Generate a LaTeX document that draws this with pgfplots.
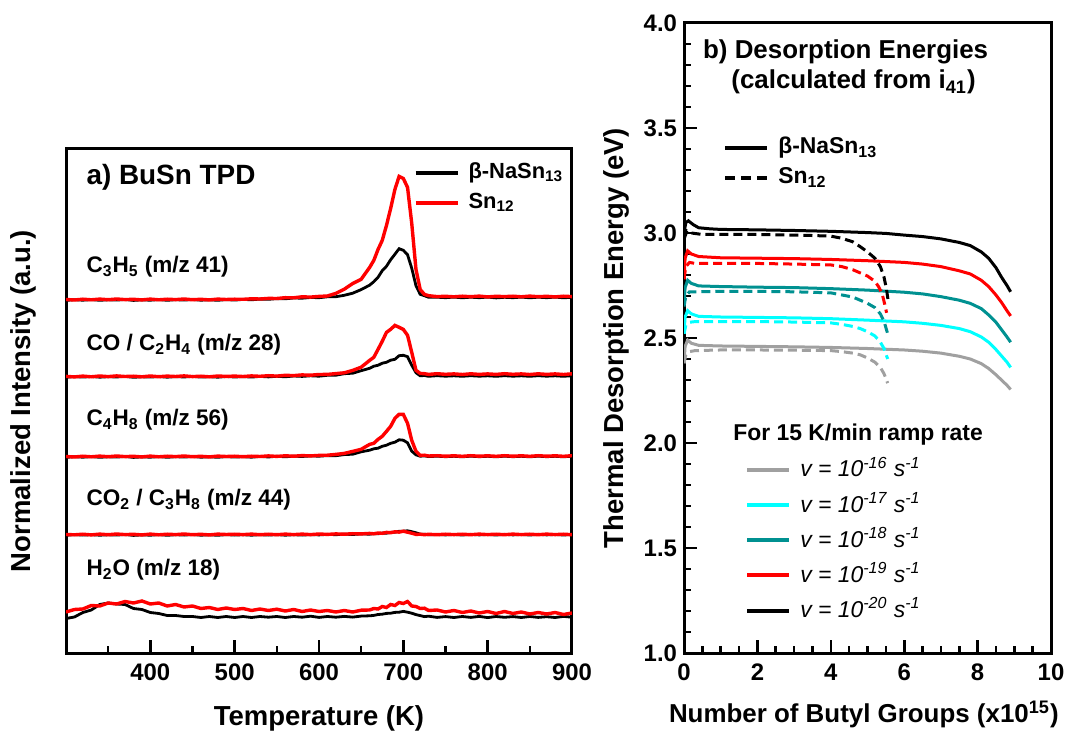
\documentclass[border=0pt]{standalone}
\usepackage{fontspec}
\setmainfont{Liberation Sans}
\usepackage{pgfplots}
\usepackage{pgfplotstable}
\pgfplotsset{compat=1.18}

\definecolor{cgray}{RGB}{160,160,160}
\definecolor{ccyan}{RGB}{0,255,255}
\definecolor{cteal}{RGB}{0,145,145}
\definecolor{cred}{RGB}{255,0,0}

\pgfplotstableread{
T b41 r41 b28 r28 b56 r56 b44 r44 b18 r18
300 352.6 353.5 275.7 276.6 195.6 196.5 117.7 118.5 34.5 41.0
310 353.3 353.0 276.4 276.1 196.3 196.0 118.4 118.2 36.0 43.5
320 352.8 353.8 275.9 276.9 195.8 196.8 117.9 118.8 40.5 44.0
330 353.4 353.2 276.5 276.2 196.4 196.2 118.3 118.1 43.0 47.5
340 352.7 353.9 275.8 277.0 195.7 196.9 117.8 118.9 48.5 47.0
350 353.2 353.3 276.3 276.4 196.2 196.3 118.2 118.3 50.0 50.0
360 352.9 354.0 276.0 277.1 195.9 197.0 117.9 119.0 49.0 49.0
370 353.5 353.4 276.6 276.5 196.5 196.4 118.5 118.4 48.5 51.5
380 352.6 353.7 275.7 276.8 195.6 196.7 117.6 118.7 44.5 50.0
390 353.1 353.1 276.2 276.2 196.1 196.1 118.1 118.1 43.5 52.0
400 352.8 353.9 275.9 277.0 195.8 196.9 117.8 118.9 40.5 49.0
410 353.4 353.2 276.5 276.3 196.4 196.2 118.4 118.2 39.5 50.0
420 352.7 353.8 275.8 276.9 195.7 196.8 117.7 118.8 37.5 47.0
430 353.3 353.4 276.4 276.5 196.3 196.4 118.3 118.4 37.5 48.5
440 352.9 354.0 276.0 277.1 195.9 197.0 117.9 119.0 36.5 46.0
450 353.5 353.3 276.6 276.4 196.5 196.3 118.5 118.3 36.5 47.0
460 352.8 353.7 275.9 276.8 195.8 196.7 117.8 118.7 35.5 44.5
470 353.2 353.1 276.3 276.2 196.2 196.1 118.2 118.1 36.5 45.5
480 352.7 353.9 275.8 277.0 195.7 196.9 117.7 118.9 35.5 43.5
490 353.4 353.5 276.5 276.6 196.4 196.5 118.4 118.5 36.5 45.0
500 352.9 353.8 276.0 276.9 195.9 196.8 117.9 118.8 35.5 43.5
510 353.6 353.7 276.4 276.5 196.3 196.3 118.3 118.4 36.5 44.5
520 353.2 354.2 275.9 277.1 195.8 196.8 117.8 118.9 35.5 42.5
530 353.9 354.0 276.6 276.7 196.6 196.5 118.3 118.3 36.5 44.0
540 353.7 354.6 276.1 277.3 196.0 197.1 117.9 118.8 35.8 42.5
550 354.4 354.5 276.7 276.9 196.7 196.6 118.4 118.3 36.5 43.8
560 354.2 355.3 276.2 277.7 196.2 197.2 117.8 118.9 35.5 42.0
570 355.0 355.2 277.0 277.4 196.8 196.8 118.3 118.4 36.5 43.5
580 354.8 356.2 276.6 278.1 196.5 197.4 117.9 118.9 35.8 41.5
590 355.5 355.9 277.2 277.8 197.1 197.1 118.4 118.4 36.8 43.0
600 355.3 356.6 276.8 278.5 196.8 197.6 118.1 119.0 35.6 41.5
610 356.2 357.0 277.7 278.6 197.4 197.8 118.6 118.6 36.5 42.5
620 356.3 359.6 277.8 279.4 197.3 198.6 118.3 119.1 35.8 41.0
630 357.7 363.8 279.3 280.2 198.4 199.6 118.8 118.8 36.6 42.5
640 359.8 369.5 279.8 282.6 198.8 201.6 118.5 119.3 35.9 41.0
650 363.4 373.7 282.3 285.8 201.2 203.7 119.1 119.1 36.9 42.8
660 367.8 385.5 284.7 292.6 202.8 208.6 118.8 119.6 37.2 43.0
665 371.3 392.6 286.8 295.7 204.2 209.7 119.4 119.2 37.6 44.5
670 375.7 403.5 287.7 303.6 204.8 213.6 119.2 120.0 38.5 44.0
675 382.3 412.6 289.8 311.7 206.7 216.7 119.9 119.7 38.8 46.5
680 386.7 427.5 290.7 320.6 207.8 221.6 119.8 120.6 39.6 45.5
685 393.3 444.6 292.8 323.7 209.7 226.7 120.6 120.3 39.8 48.5
690 398.7 463.5 293.7 327.6 210.8 234.6 120.8 121.2 40.6 47.5
695 404.3 476.6 297.3 325.7 213.2 238.7 121.7 120.9 40.8 50.5
700 402.7 474.5 297.7 323.6 212.8 238.6 121.8 121.8 41.6 49.5
705 398.3 465.6 296.3 317.7 210.2 229.7 122.2 120.8 40.8 51.5
710 384.7 429.5 287.7 300.6 201.8 212.6 121.3 119.8 39.8 47.0
715 367.3 383.6 280.3 282.7 198.2 201.7 120.2 118.6 38.4 46.5
720 358.7 363.5 277.2 279.6 196.8 197.6 118.8 118.8 37.4 44.5
725 357.3 358.6 277.5 279.3 197.1 197.8 118.8 118.3 36.4 44.8
730 355.7 357.3 276.7 278.6 196.4 197.0 118.2 118.7 36.8 42.5
740 355.8 356.4 277.3 279.3 196.8 197.3 118.5 118.3 35.6 43.0
750 355.3 356.7 276.8 278.7 196.3 196.8 118.1 118.8 36.4 41.0
760 355.9 356.2 277.2 279.1 196.7 197.2 118.5 118.4 35.5 42.5
770 355.2 356.8 276.7 278.5 196.2 196.7 118.0 118.8 36.5 40.5
780 355.8 356.3 277.3 279.2 196.8 197.3 118.6 118.3 35.6 42.0
790 355.3 356.9 276.8 278.6 196.3 196.8 118.1 118.9 36.6 40.0
800 355.9 356.1 277.2 279.1 196.7 197.2 118.5 118.4 35.4 41.5
810 355.1 356.7 276.7 278.6 196.2 196.7 118.0 118.8 36.5 39.5
820 355.7 356.4 277.3 279.3 196.8 197.3 118.6 118.3 35.7 41.5
830 355.3 356.8 276.8 278.7 196.3 196.8 118.1 118.9 36.4 39.5
840 355.9 356.2 277.2 279.1 196.7 197.2 118.5 118.4 35.5 41.0
850 355.2 356.9 276.7 278.5 196.2 196.7 118.0 118.8 36.5 39.0
860 355.8 356.3 277.3 279.2 196.8 197.3 118.6 118.3 35.6 40.5
870 355.3 356.7 276.8 278.6 196.3 196.8 118.1 118.9 36.3 39.0
880 355.9 356.1 277.2 279.1 196.7 197.2 118.5 118.4 35.5 40.5
890 355.2 356.8 276.7 278.5 196.2 196.7 118.0 118.8 36.6 38.5
900 355.7 356.4 277.3 279.2 196.8 197.3 118.5 118.3 35.8 40.0
}\tpd

\pgfplotsset{
  myaxis/.style={
    scale only axis,
    axis line style={line width=1.5bp},
    tick align=inside,
    xtick pos=bottom, ytick pos=left,
    major tick length=6.5bp, minor tick length=3.5bp,
    every tick/.style={black, line width=1.3bp},
    ticklabel style={font=\fontsize{12}{14}\selectfont\bfseries},
    /pgf/number format/assume math mode=true,
    label style={font=\fontsize{13.8}{16}\selectfont\bfseries},
    xticklabel style={yshift=-2bp},
  },
  thicklegend/.style={
    legend image code/.code={\draw[##1, line width=2bp] (0bp,0bp) -- (21bp,0bp);},
  },
}

\begin{document}
\begin{tikzpicture}
\path[use as bounding box] (0,0) rectangle (533.5bp,367bp);

% ---------------- left panel ----------------
\begin{axis}[myaxis,
  at={(33bp,40.5bp)}, anchor=south west,
  width=253bp, height=252bp,
  xmin=300, xmax=900, ymin=0, ymax=504,
  xtick={400,500,...,900}, minor xtick={350,450,...,850},
  ytick=\empty,
  xlabel={Temperature (K)},
  ylabel={Normalized Intensity (a.u.)},
  xlabel style={at={(axis description cs:0.5,-0.129)}, anchor=center},
  ylabel style={at={(axis description cs:-0.085,0.5)}, anchor=center},
  thicklegend,
  legend style={at={(axis description cs:0.686,0.9235)}, anchor=west,
    draw=none, fill=none, inner sep=0pt, row sep=3bp, column sep=4bp,
    font=\fontsize{11}{13}\selectfont\bfseries,
    nodes={inner sep=0.5bp, text height=8.5bp, text depth=2.5bp}},
  legend cell align=left,
]
\addplot[black, line width=1.4bp] table[x=T,y=b41]{\tpd};
\addlegendentry{β-NaSn\textsubscript{13}}
\addplot[black, line width=1.4bp, forget plot] table[x=T,y=b28]{\tpd};
\addplot[black, line width=1.4bp, forget plot] table[x=T,y=b56]{\tpd};
\addplot[black, line width=1.4bp, forget plot] table[x=T,y=b44]{\tpd};
\addplot[black, line width=1.4bp, forget plot] table[x=T,y=b18]{\tpd};
\addplot[cred, line width=1.7bp] table[x=T,y=r41]{\tpd};
\addlegendentry{Sn\textsubscript{12}}
\addplot[cred, line width=1.7bp, forget plot] table[x=T,y=r28]{\tpd};
\addplot[cred, line width=1.7bp, forget plot] table[x=T,y=r56]{\tpd};
\addplot[cred, line width=1.7bp, forget plot] table[x=T,y=r44]{\tpd};
\addplot[cred, line width=1.7bp, forget plot] table[x=T,y=r18]{\tpd};

\node[anchor=west, font=\fontsize{14}{16}\selectfont\bfseries] at (axis cs:316,476) {a) BuSn TPD};
\begin{scope}[every node/.style={anchor=west, font=\fontsize{11.3}{13}\selectfont\bfseries}]
\node at (axis cs:316,386) {C\textsubscript{3}H\textsubscript{5} (m/z 41)};
\node at (axis cs:316,308) {CO / C\textsubscript{2}H\textsubscript{4} (m/z 28)};
\node at (axis cs:316,233) {C\textsubscript{4}H\textsubscript{8} (m/z 56)};
\node at (axis cs:316,153) {CO\textsubscript{2} / C\textsubscript{3}H\textsubscript{8} (m/z 44)};
\node at (axis cs:316,83) {H\textsubscript{2}O (m/z 18)};
\end{scope}
\end{axis}

% ---------------- right panel ----------------
\begin{axis}[myaxis,
  at={(342bp,40.5bp)}, anchor=south west,
  width=183.5bp, height=315bp,
  xmin=0, xmax=10, ymin=1, ymax=4,
  xtick={0,2,...,10}, minor x tick num=3,
  ytick={1,1.5,...,4}, minor y tick num=4,
  yticklabel style={/pgf/number format/.cd, fixed, fixed zerofill, precision=1},
  xlabel={Number of Butyl Groups (x10\textsuperscript{15})},
  ylabel={Thermal Desorption Energy (eV)},
  xlabel style={at={(axis description cs:0.49,-0.098)}, anchor=center, font=\fontsize{13}{15}\selectfont\bfseries},
  ylabel style={at={(axis description cs:-0.183,0.5)}, anchor=center},
  thicklegend,
  legend style={at={(axis description cs:0.106,0.7785)}, anchor=west,
    draw=none, fill=none, inner sep=0pt, row sep=3bp, column sep=4bp,
    font=\fontsize{11.5}{13}\selectfont\bfseries,
    nodes={inner sep=0.5bp, text height=8.5bp, text depth=2.5bp}},
  legend cell align=left,
]
\addlegendimage{black, line width=2bp}
\addlegendentry{β-NaSn\textsubscript{13}}
\addlegendimage{black, line width=2bp, dash pattern=on 5bp off 3bp}
\addlegendentry{Sn\textsubscript{12}}

% gray
\addplot[cgray, line width=1.5bp, forget plot] coordinates {(0,2.38) (0.03,2.46) (0.1,2.49) (0.2,2.475) (0.4,2.465) (1,2.462) (2,2.46) (3,2.458) (4,2.455) (5,2.45) (6,2.443) (6.5,2.437) (7,2.428) (7.5,2.413) (7.8,2.4) (8.1,2.378) (8.3,2.355) (8.5,2.325) (8.65,2.3) (8.8,2.275) (8.9,2.255)};
\addplot[cgray, line width=1.5bp, dash pattern=on 4.5bp off 2.5bp, forget plot] coordinates {(0,2.38) (0.05,2.42) (0.15,2.435) (0.3,2.44) (1,2.443) (2,2.443) (3,2.442) (4,2.44) (4.3,2.435) (4.6,2.428) (4.8,2.42) (5.0,2.405) (5.2,2.385) (5.35,2.36) (5.45,2.33) (5.55,2.285)};
% cyan
\addplot[ccyan, line width=1.5bp, forget plot] coordinates {(0,2.52) (0.03,2.6) (0.1,2.63) (0.2,2.615) (0.4,2.603) (1,2.6) (2,2.598) (3,2.596) (4,2.592) (5,2.585) (6,2.577) (6.5,2.57) (7,2.56) (7.5,2.545) (7.8,2.53) (8.1,2.505) (8.3,2.48) (8.5,2.445) (8.65,2.415) (8.8,2.385) (8.9,2.36)};
\addplot[ccyan, line width=1.5bp, dash pattern=on 4.5bp off 2.5bp, forget plot] coordinates {(0,2.52) (0.05,2.56) (0.15,2.575) (0.3,2.578) (1,2.578) (2,2.578) (3,2.576) (4,2.572) (4.3,2.565) (4.6,2.555) (4.8,2.545) (5.0,2.53) (5.2,2.51) (5.35,2.48) (5.45,2.45) (5.55,2.40)};
% teal
\addplot[cteal, line width=1.5bp, forget plot] coordinates {(0,2.66) (0.03,2.74) (0.1,2.775) (0.2,2.76) (0.4,2.748) (1,2.745) (2,2.742) (3,2.74) (4,2.735) (5,2.728) (6,2.718) (6.5,2.71) (7,2.697) (7.5,2.68) (7.8,2.665) (8.1,2.64) (8.3,2.61) (8.5,2.575) (8.65,2.54) (8.8,2.505) (8.9,2.48)};
\addplot[cteal, line width=1.5bp, dash pattern=on 4.5bp off 2.5bp, forget plot] coordinates {(0,2.65) (0.05,2.70) (0.15,2.72) (0.3,2.72) (1,2.722) (2,2.722) (3,2.72) (4,2.715) (4.3,2.705) (4.6,2.695) (4.8,2.68) (5.0,2.665) (5.2,2.645) (5.35,2.615) (5.45,2.58) (5.55,2.52)};
% red
\addplot[cred, line width=1.5bp, forget plot] coordinates {(0,2.78) (0.03,2.88) (0.1,2.915) (0.2,2.9) (0.4,2.888) (1,2.882) (2,2.88) (3,2.878) (4,2.874) (5,2.868) (6,2.86) (6.5,2.852) (7,2.84) (7.5,2.82) (7.8,2.805) (8.1,2.775) (8.3,2.745) (8.5,2.705) (8.65,2.67) (8.8,2.63) (8.9,2.605)};
\addplot[cred, line width=1.5bp, dash pattern=on 4.5bp off 2.5bp, forget plot] coordinates {(0,2.78) (0.05,2.84) (0.15,2.86) (0.3,2.855) (1,2.855) (2,2.855) (3,2.852) (4,2.848) (4.3,2.84) (4.6,2.825) (4.8,2.81) (5.0,2.795) (5.2,2.77) (5.3,2.745) (5.4,2.71) (5.47,2.66) (5.52,2.62)};
% black
\addplot[black, line width=1.5bp, forget plot] coordinates {(0,3.0) (0.05,3.05) (0.12,3.058) (0.25,3.04) (0.4,3.025) (0.7,3.02) (1,3.017) (2,3.015) (3,3.012) (4,3.008) (5,3.002) (5.5,2.998) (6,2.99) (6.5,2.983) (7,2.972) (7.5,2.955) (7.8,2.94) (8.1,2.91) (8.3,2.88) (8.5,2.835) (8.65,2.79) (8.8,2.75) (8.9,2.72)};
\addplot[black, line width=1.5bp, dash pattern=on 4.5bp off 2.5bp, forget plot] coordinates {(0,2.97) (0.08,3.01) (0.2,3.0) (0.5,2.993) (1,2.993) (2,2.993) (3,2.99) (3.5,2.988) (4,2.985) (4.3,2.975) (4.6,2.958) (4.8,2.935) (5.0,2.91) (5.2,2.88) (5.35,2.84) (5.45,2.79) (5.52,2.73) (5.56,2.68)};

\node[anchor=west, font=\fontsize{13}{15}\selectfont\bfseries] at (axis description cs:0.033,0.954) {b) Desorption Energies};
\node[anchor=west, font=\fontsize{13}{15}\selectfont\bfseries] at (axis description cs:0.11,0.906) {(calculated from i\textsubscript{41})};
\node[anchor=west, font=\fontsize{11.5}{13}\selectfont\bfseries] at (axis description cs:0.115,0.346) {For 15 K/min ramp rate};
\end{axis}

% overlay axis for the frequency-factor legend
\begin{axis}[
  at={(342bp,40.5bp)}, anchor=south west, scale only axis,
  width=183.5bp, height=315bp,
  xmin=0, xmax=10, ymin=1, ymax=4, hide axis,
  thicklegend,
  legend style={at={(axis description cs:0.166,0.179)}, anchor=west,
    draw=none, fill=none, inner sep=0pt, row sep=4.6bp, column sep=4bp,
    font=\fontsize{11.5}{13}\selectfont\itshape,
    nodes={inner sep=0.5bp, text height=9.5bp, text depth=2.5bp}},
  legend cell align=left,
]
\addlegendimage{cgray, line width=2.2bp}
\addlegendentry{v = 10\textsuperscript{-16} s\textsuperscript{-1}}
\addlegendimage{ccyan, line width=2.2bp}
\addlegendentry{v = 10\textsuperscript{-17} s\textsuperscript{-1}}
\addlegendimage{cteal, line width=2.2bp}
\addlegendentry{v = 10\textsuperscript{-18} s\textsuperscript{-1}}
\addlegendimage{cred, line width=2.2bp}
\addlegendentry{v = 10\textsuperscript{-19} s\textsuperscript{-1}}
\addlegendimage{black, line width=2.2bp}
\addlegendentry{v = 10\textsuperscript{-20} s\textsuperscript{-1}}
\end{axis}
\end{tikzpicture}
\end{document}
